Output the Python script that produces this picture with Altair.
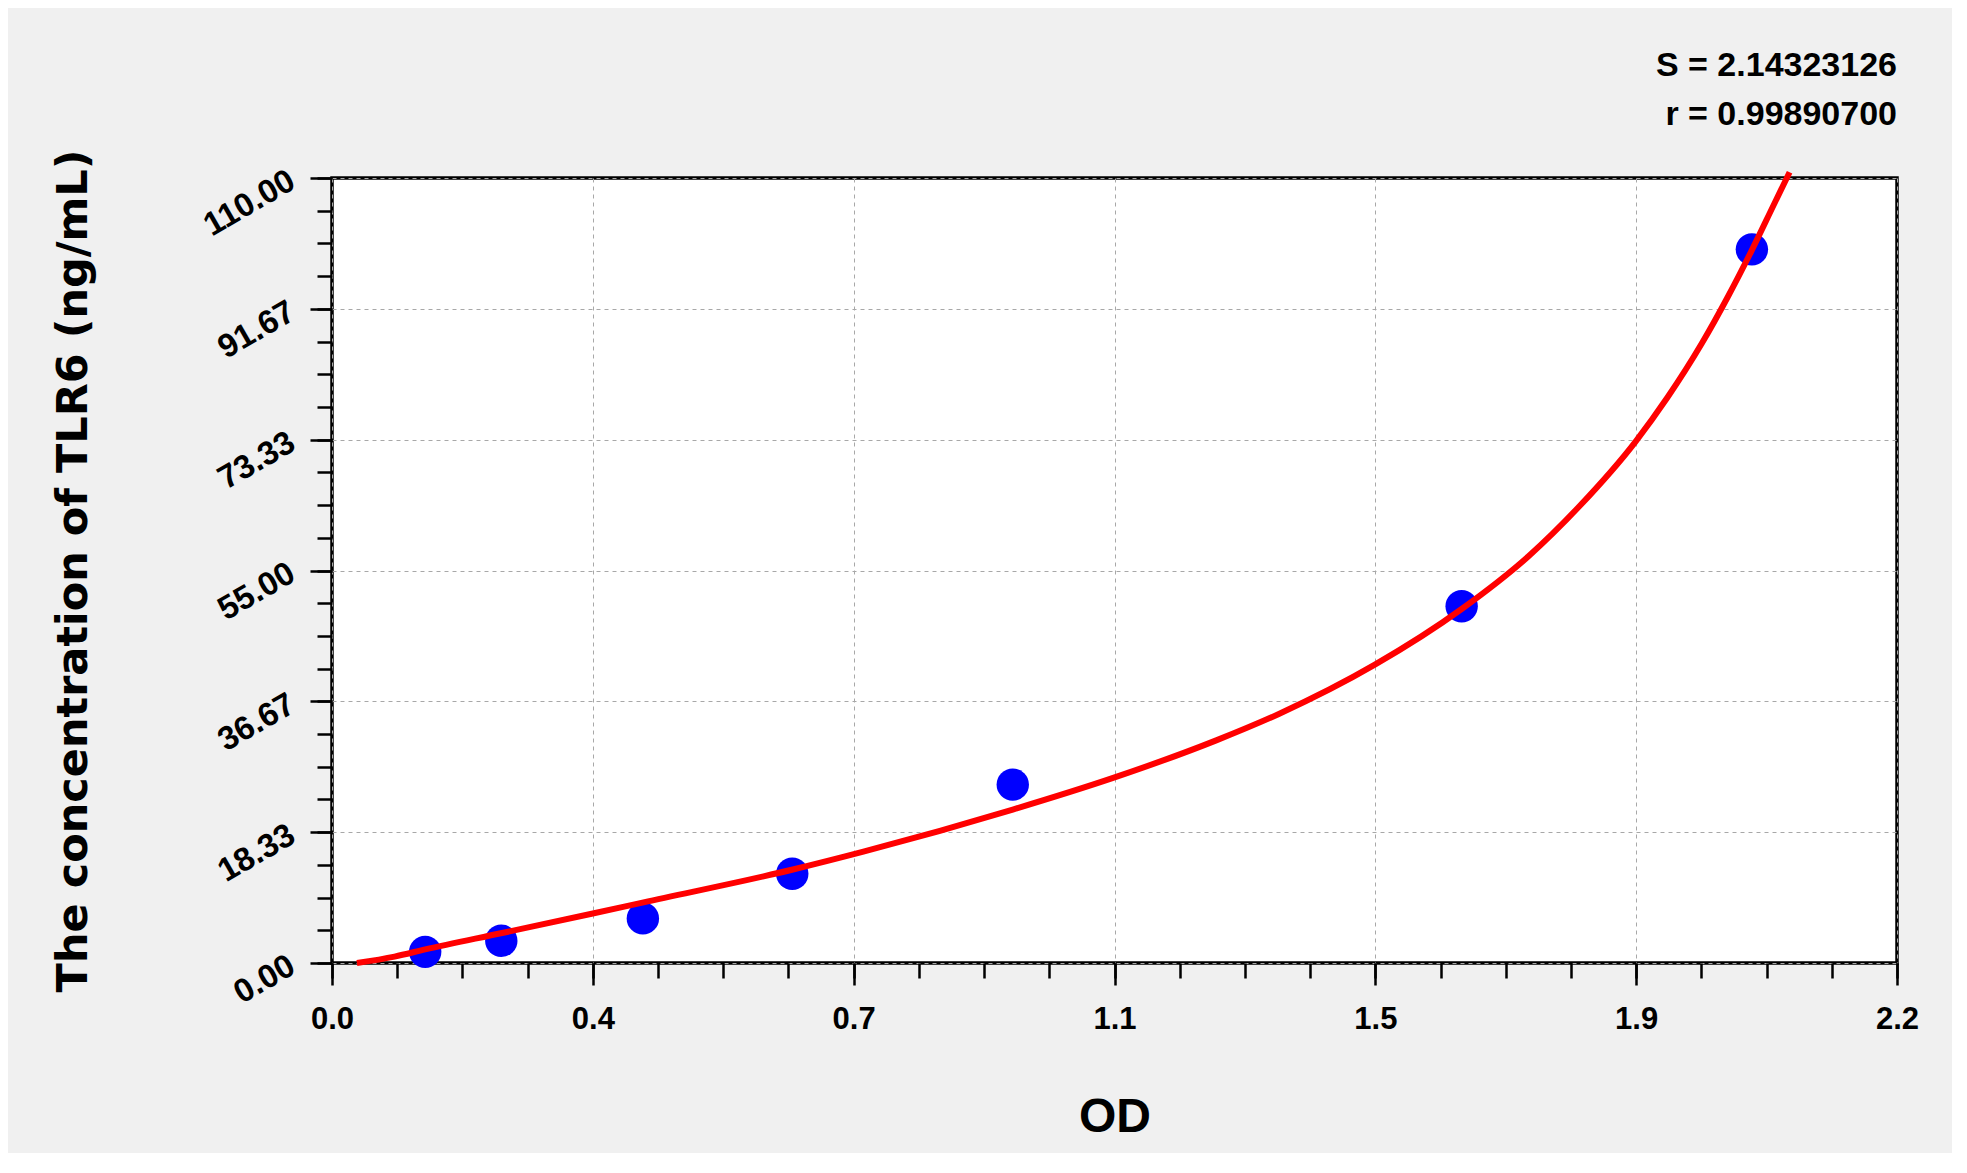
import altair as alt
import pandas as pd
import numpy as np

# ---- data ----
od = [0.131, 0.238, 0.437, 0.647, 0.957, 1.588, 1.996]
conc = [1.56, 3.12, 6.25, 12.5, 25.0, 50.0, 100.0]

curve_od = [0.035, 0.088, 0.131, 0.239, 0.365, 0.438, 0.648, 0.747, 0.957, 1.097,
            1.243, 1.331, 1.466, 1.588, 1.682, 1.7535, 1.832, 1.877, 1.9255, 1.963,
            1.9955, 2.028, 2.049]
curve_conc = [0.0, 0.9, 1.9, 4.2, 6.9, 8.5, 13.1, 15.6, 21.5, 25.9,
              31.2, 34.9, 41.8, 49.6, 57.0, 64.0, 73.0, 79.2, 86.8, 93.5,
              99.8, 106.5, 110.8]

x_tick_labels = ["0.0", "0.4", "0.7", "1.1", "1.5", "1.9", "2.2"]
y_tick_labels = ["0.00", "18.33", "36.67", "55.00", "73.33", "91.67", "110.00"]
x_max = 2.2
y_max = 110.0
stat_s = "S = 2.14323126"
stat_r = "r = 0.99890700"
x_title = "OD"
y_title = "The concentration of TLR6 (ng/mL)"

# ---- tick positions ----
nx = len(x_tick_labels) - 1
ny = len(y_tick_labels) - 1
x_major = [float(v) for v in np.linspace(0, x_max, nx + 1)]
y_major = [float(v) for v in np.linspace(0, y_max, ny + 1)]
x_minor = [float(v) for v in np.linspace(0, x_max, 4 * nx + 1)]
y_minor = [float(v) for v in np.linspace(0, y_max, 4 * ny + 1)]
x_step = x_max / nx
y_step = y_max / ny

pts = pd.DataFrame({"od": od, "conc": conc})
crv = pd.DataFrame({"od": curve_od, "conc": curve_conc})

FONT = "Liberation Sans"
xs = alt.Scale(domain=[0, x_max], nice=False, zero=False)
ys = alt.Scale(domain=[0, y_max], nice=False, zero=False)

x_main_axis = alt.Axis(
    values=x_major, orient="bottom", domain=False, grid=True,
    gridColor="#a8a8a8", gridDash=[4, 4], gridWidth=1,
    tickSize=22, tickWidth=2.5, tickColor="black",
    labelExpr=f"{x_tick_labels}[round(datum.value / {x_step})]",
    labelFont=FONT, labelFontSize=31, labelFontWeight="bold", labelColor="black",
    labelPadding=19, labelFlush=False, labelOverlap=False,
    title=x_title, titleFont=FONT, titleFontSize=48, titleFontWeight="bold",
    titleColor="black", titleX=782.5, titleY=168, titleAlign="center",
    titleBaseline="alphabetic",
)
y_main_axis = alt.Axis(
    values=y_major, orient="left", domain=False, grid=True,
    gridColor="#a8a8a8", gridDash=[4, 4], gridWidth=1,
    tickSize=22, tickWidth=2.5, tickColor="black",
    labelExpr=f"{y_tick_labels}[round(datum.value / {y_step})]",
    labelFont=FONT, labelFontSize=33, labelFontWeight="bold", labelColor="black",
    labelAngle=330, labelAlign="right", labelBaseline="middle",
    labelPadding=18, labelFlush=False, labelOverlap=False,
    title=y_title, titleFont="DejaVu Sans", titleFontSize=43, titleFontWeight="bold",
    titleColor="black", titleAngle=270, titleX=-246, titleY=392.5,
    titleAlign="center", titleBaseline="alphabetic",
)
x_minor_axis = alt.Axis(values=x_minor, orient="bottom", domain=False, grid=False,
                        labels=False, tickSize=15, tickWidth=2.5, tickColor="black",
                        title=None)
y_minor_axis = alt.Axis(values=y_minor, orient="left", domain=False, grid=False,
                        labels=False, tickSize=15, tickWidth=2.5, tickColor="black",
                        title=None)

points = alt.Chart(pts).mark_circle(size=1050, color="#0000ff", opacity=1).encode(
    x=alt.X("od:Q", scale=xs, axis=x_main_axis),
    y=alt.Y("conc:Q", scale=ys, axis=y_main_axis),
)
line = alt.Chart(crv).mark_line(color="#ff0000", strokeWidth=6, interpolate="monotone").encode(
    x=alt.X("od:Q", scale=xs, axis=x_minor_axis),
    y=alt.Y("conc:Q", scale=ys, axis=y_minor_axis),
    order="od:Q",
)

chart = alt.layer(points, line).resolve_axis(x="independent", y="independent").properties(
    width=1565, height=785,
    autosize=alt.AutoSizeParams(type="none"),
    padding={"left": 324, "top": 170, "right": 55, "bottom": 190},
    title=alt.TitleParams(
        text=stat_s, subtitle=stat_r, anchor="end", frame="group", orient="top",
        font=FONT, fontSize=34, fontWeight="bold", color="black",
        subtitleFont=FONT, subtitleFontSize=34, subtitleFontWeight="bold",
        subtitleColor="black", subtitlePadding=15, offset=17,
    ),
).configure(background="#f0f0f0").configure_view(
    fill="white", stroke="black", strokeWidth=3.5
)

chart.save("out.html", embed_options={"renderer": "svg", "actions": False})
